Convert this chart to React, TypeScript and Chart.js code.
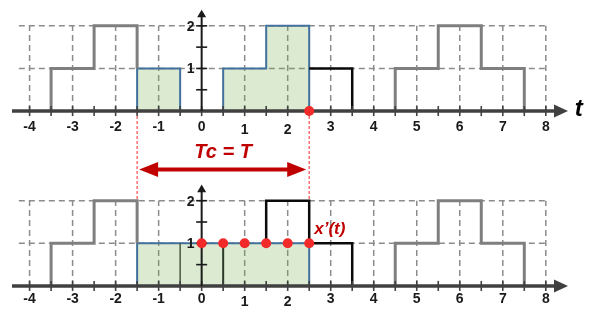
import React, { useEffect, useRef } from "react";
import { Chart, registerables } from "chart.js";

Chart.register(...registerables);

// ---- data ----
// signal x(t): level held from edgeT[i] until edgeT[i+1]
const edgeT = [-3.5, -2.5, -1.5, -0.5, 0.5, 1.5, 2.5, 3.5, 4.5, 5.5, 6.5, 7.5];
const edgeLevel = [1, 2, 1, 0, 1, 2, 1, 0, 1, 2, 1, 0];
const periodStart = -1.5;
const periodEnd = 2.5;
// x'(t) over one period
const primeLevel = 1;
const primeInnerEdges = [-0.5, 0.5];
const sampleT = [0, 0.5, 1, 1.5, 2, 2.5];
const sampleV = [1, 1, 1, 1, 1, 1];
// axis ticks
const xTickValues = [-4, -3, -2, -1, 0, 1, 2, 3, 4, 5, 6, 7, 8];
const xTickLabels = ["-4", "-3", "-2", "-1", "0", "1", "2", "3", "4", "5", "6", "7", "8"];
const yTickValues = [1, 2];
const yTickLabels = ["1", "2"];
const gridLevels = [1, 2];

// ---- layout (pixels) ----
const W = 598;
const H = 320;
const X_UNIT = 43.75;
const X_ZERO = 200;
const Y_UNIT = 44;
const Y_ZERO_BOTTOM = 290;
const Y_ZERO_TOP = 109.5;
const OFF = (Y_ZERO_BOTTOM - Y_ZERO_TOP) / Y_UNIT;

const GRAY = "#7f7f7f";
const BLACK = "#0a0a0a";
const BLUE = "#41719c";
const GREEN = "rgba(112,173,71,0.25)";
const RED = "#f22a2a";
const DARKRED = "#c00000";
const FONT = "'Liberation Sans', Arial, sans-serif";

type P = { x: number; y: number };

function trace(a: number, b: number, startY: number, endY: number): P[] {
  const pts: P[] = [{ x: a, y: startY }];
  for (let i = 0; i < edgeT.length; i++) {
    if (edgeT[i] >= a && edgeT[i] < b) pts.push({ x: edgeT[i], y: edgeLevel[i] });
  }
  pts.push({ x: b, y: endY });
  return pts;
}
const shift = (pts: P[], off: number) => pts.map((p) => ({ x: p.x, y: p.y + off }));

const line = (data: P[], color: string, width: number, extra: any = {}) => ({
  type: "line",
  data,
  borderColor: color,
  borderWidth: width,
  pointRadius: 0,
  stepped: "before",
  fill: false,
  tension: 0,
  order: 3,
  ...extra,
});

const greenExtra = (base: number) => ({
  fill: { value: base },
  backgroundColor: GREEN,
  order: 5,
});

const decor = {
  id: "decor",
  beforeDatasetsDraw(chart: any) {
    const ctx = chart.ctx;
    const sx = (v: number) => chart.scales.x.getPixelForValue(v);
    const sy = (v: number) => chart.scales.y.getPixelForValue(v);
    chart.$axesDrawn = false;
    ctx.save();
    // dashed grid
    ctx.setLineDash([6, 4]);
    ctx.strokeStyle = "#8c8c8c";
    ctx.lineWidth = 1.5;
    for (const b of [0, OFF]) {
      for (const v of xTickValues) {
        if (v === 0) continue;
        ctx.beginPath();
        ctx.moveTo(sx(v), sy(b));
        ctx.lineTo(sx(v), sy(b + 2));
        ctx.stroke();
      }
      for (const lv of gridLevels) {
        ctx.beginPath();
        ctx.moveTo(sx(-4.25), sy(b + lv));
        ctx.lineTo(sx(8), sy(b + lv));
        ctx.stroke();
      }
    }
    // red dotted guides
    ctx.setLineDash([3, 2]);
    ctx.strokeStyle = "#ff5a5a";
    ctx.lineWidth = 1.3;
    for (const t of [periodStart, periodEnd]) {
      ctx.beginPath();
      ctx.moveTo(sx(t), sy(OFF));
      ctx.lineTo(sx(t), sy(primeLevel));
      ctx.stroke();
    }
    ctx.restore();
  },
  beforeDatasetDraw(chart: any, args: any) {
    if (chart.$axesDrawn) return;
    if (args.meta.type !== "scatter") return;
    chart.$axesDrawn = true;
    const ctx = chart.ctx;
    const sx = (v: number) => chart.scales.x.getPixelForValue(v);
    const sy = (v: number) => chart.scales.y.getPixelForValue(v);
    ctx.save();
    ctx.setLineDash([]);
    for (const b of [0, OFF]) {
      const y0 = sy(b);
      // x axis
      ctx.strokeStyle = "#404040";
      ctx.fillStyle = "#404040";
      ctx.lineWidth = 3.5;
      ctx.beginPath();
      ctx.moveTo(12, y0);
      ctx.lineTo(557, y0);
      ctx.stroke();
      ctx.beginPath();
      ctx.moveTo(554, y0 - 6.5);
      ctx.lineTo(568, y0);
      ctx.lineTo(554, y0 + 6.5);
      ctx.closePath();
      ctx.fill();
      ctx.lineWidth = 1.6;
      for (let t = -4; t <= 8; t += 0.5) {
        ctx.beginPath();
        ctx.moveTo(sx(t), y0 - 5);
        ctx.lineTo(sx(t), y0 + 5);
        ctx.stroke();
      }
      // y axis
      const x0 = sx(0);
      ctx.strokeStyle = "#1a1a1a";
      ctx.fillStyle = "#1a1a1a";
      ctx.lineWidth = 2;
      ctx.beginPath();
      ctx.moveTo(x0, y0);
      ctx.lineTo(x0, sy(b + 2.25));
      ctx.stroke();
      ctx.beginPath();
      ctx.moveTo(x0 - 4.5, sy(b + 2.2));
      ctx.lineTo(x0, sy(b + 2.38));
      ctx.lineTo(x0 + 4.5, sy(b + 2.2));
      ctx.closePath();
      ctx.fill();
      ctx.lineWidth = 1.6;
      for (const v of [0.5, 1, 1.5, 2]) {
        ctx.beginPath();
        ctx.moveTo(x0 - 5.5, sy(b + v));
        ctx.lineTo(x0 + 5.5, sy(b + v));
        ctx.stroke();
      }
    }
    ctx.restore();
  },
  afterDatasetsDraw(chart: any) {
    const ctx = chart.ctx;
    const sx = (v: number) => chart.scales.x.getPixelForValue(v);
    const sy = (v: number) => chart.scales.y.getPixelForValue(v);
    ctx.save();
    ctx.setLineDash([]);
    ctx.fillStyle = "#1a1a1a";
    ctx.font = `bold 14px ${FONT}`;
    ctx.textBaseline = "middle";
    for (const b of [0, OFF]) {
      const y0 = sy(b);
      const dy = b === 0 ? 13 : 16;
      ctx.textAlign = "center";
      xTickValues.forEach((v, i) => {
        const extra = v === 1 || v === 2 ? 3 : 0;
        ctx.fillText(xTickLabels[i], sx(v), y0 + dy + extra);
      });
      ctx.textAlign = "right";
      yTickValues.forEach((v, i) => {
        ctx.fillText(yTickLabels[i], sx(0) - 7, sy(b + v) + 1);
      });
    }
    // t label
    ctx.font = `bold italic 24px ${FONT}`;
    ctx.textAlign = "center";
    ctx.fillStyle = "#000";
    ctx.fillText("t", sx(8) + 33, sy(OFF) - 2);

    // Tc = T arrow
    const ay = sy(2.73);
    const xa = sx(periodStart) + 2;
    const xb = sx(periodEnd) - 3;
    ctx.strokeStyle = DARKRED;
    ctx.fillStyle = DARKRED;
    ctx.lineWidth = 4;
    ctx.beginPath();
    ctx.moveTo(xa + 12, ay);
    ctx.lineTo(xb - 12, ay);
    ctx.stroke();
    ctx.beginPath();
    ctx.moveTo(xa, ay);
    ctx.lineTo(xa + 19, ay - 7.5);
    ctx.lineTo(xa + 19, ay + 7.5);
    ctx.closePath();
    ctx.fill();
    ctx.beginPath();
    ctx.moveTo(xb, ay);
    ctx.lineTo(xb - 19, ay - 7.5);
    ctx.lineTo(xb - 19, ay + 7.5);
    ctx.closePath();
    ctx.fill();
    ctx.font = `bold italic 20px ${FONT}`;
    ctx.textAlign = "center";
    ctx.fillText("Tc = T", sx((periodStart + periodEnd) / 2), sy(3.14));

    // x'(t) label
    ctx.font = `bold italic 17px ${FONT}`;
    ctx.textAlign = "left";
    ctx.fillText("x\u2019(t)", sx(periodEnd) + 5, sy(1.32));
    ctx.restore();
  },
};

export default function App() {
  const ref = useRef<HTMLCanvasElement | null>(null);
  useEffect(() => {
    if (!ref.current) return;
    const datasets: any[] = [
      // top panel: x(t)
      line(shift(trace(periodStart, -0.5, 0, 0), OFF), BLUE, 2, greenExtra(OFF)),
      line(shift(trace(0.5, periodEnd, 0, 0), OFF), BLUE, 2, greenExtra(OFF)),
      line(shift(trace(-3.5, periodStart, 0, 1), OFF), GRAY, 3),
      line(shift(trace(periodEnd, 3.5, 1, 0), OFF), BLACK, 2.5),
      line(shift(trace(4.5, 7.5, 0, 0), OFF), GRAY, 3),
      // bottom panel: x'(t)
      line(
        [
          { x: periodStart, y: 0 },
          { x: periodStart, y: primeLevel },
          { x: periodEnd, y: 0 },
        ],
        BLUE,
        2,
        greenExtra(0)
      ),
      ...primeInnerEdges.map((e, i) =>
        line(
          [
            { x: e, y: 0 },
            { x: e, y: primeLevel },
          ],
          i === 0 ? "#4a5a44" : "#2c3a28",
          i === 0 ? 1.5 : 2,
          { stepped: false, order: 4 }
        )
      ),
      line(trace(-3.5, periodStart, 0, 1), GRAY, 3),
      line(trace(1.5, 3.5, 1, 0), BLACK, 2.5),
      line(trace(4.5, 7.5, 0, 0), GRAY, 3),
      // sample points
      {
        type: "scatter",
        data: sampleT.map((t, i) => ({ x: t, y: sampleV[i] })),
        pointRadius: 5,
        pointBackgroundColor: RED,
        pointBorderWidth: 0,
        showLine: false,
        order: 0,
      },
      {
        type: "scatter",
        data: [{ x: periodEnd, y: OFF }],
        pointRadius: 5,
        pointBackgroundColor: RED,
        pointBorderWidth: 0,
        showLine: false,
        order: 0,
      },
    ];
    const chart = new Chart(ref.current, {
      type: "line",
      data: { datasets },
      options: {
        animation: false,
        responsive: false,
        maintainAspectRatio: false,
        layout: { padding: 0 },
        plugins: { legend: { display: false }, tooltip: { enabled: false } },
        events: [],
        scales: {
          x: {
            type: "linear",
            display: false,
            min: -X_ZERO / X_UNIT,
            max: (W - X_ZERO) / X_UNIT,
          },
          y: {
            type: "linear",
            display: false,
            min: -(H - Y_ZERO_BOTTOM) / Y_UNIT,
            max: Y_ZERO_BOTTOM / Y_UNIT,
          },
        },
      } as any,
      plugins: [decor],
    } as any);
    return () => chart.destroy();
  }, []);
  return (
    <div style={{ position: "absolute", left: 0, top: 0, width: W, height: H, background: "#fff" }}>
      <canvas ref={ref} width={W} height={H} style={{ width: W, height: H, display: "block" }} />
    </div>
  );
}
